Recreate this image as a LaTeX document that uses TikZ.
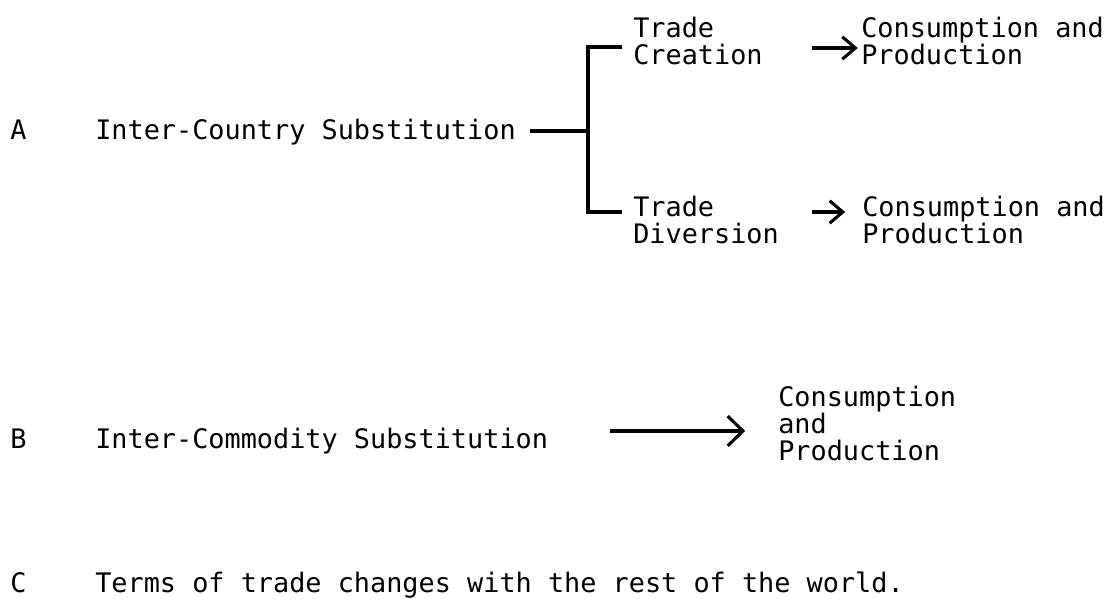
\documentclass[tikz,border=0pt]{standalone}
\usepackage{fontspec}
\setmainfont{DejaVu Sans Mono}
\usetikzlibrary{arrows.meta}

\begin{document}
\begin{tikzpicture}[x=0.025cm,y=-0.025cm,
    txt/.style={anchor=base west,inner sep=0pt,align=left,
                font=\fontsize{19.1}{19.2}\selectfont},
    ln/.style={line width=2.2pt},
    arr/.style={ln,-{Straight Barb[length=3.3mm,width=5.6mm]}},
    bigarr/.style={ln,-{Straight Barb[length=3.8mm,width=7.4mm]}}]

    \useasboundingbox (0,0) rectangle (1106,599);

    % case A (multi-line nodes sit on their last line)
    \node[txt] (la) at (10,139) {A};
    \node[txt] (ics) at (95,139) {Inter-Country Substitution};
    \node[txt] (tcr) at (633,64) {Trade\\Creation};
    \node[txt] (tdv) at (633,243) {Trade\\Diversion};
    \node[txt] (cp1) at (861,64) {Consumption and\\Production};
    \node[txt] (cp2) at (862,243) {Consumption and\\Production};

    \coordinate (stem) at (530,131);
    \coordinate (fork) at (588,131);
    \coordinate (up) at (622,47);
    \coordinate (dn) at (622,212);
    \draw[ln] (stem) -- (fork);
    \draw[ln] (up) -| (fork) |- (dn);

    \coordinate (a1) at (812,48);
    \coordinate (a2) at (812,212);
    \draw[arr,shorten >=0.08cm] (a1) -- (a1 -| cp1.west);
    \draw[arr,shorten >=0.42cm] (a2) -- (a2 -| cp2.west);

    % case B
    \node[txt] (lb) at (10,448) {B};
    \node[txt] (ims) at (95,448) {Inter-Commodity Substitution};
    \node[txt] (cp3) at (778,460) {Consumption\\and\\Production};
    \coordinate (a3) at (610,431);
    \draw[bigarr,shorten >=0.82cm] (a3) -- (a3 -| cp3.west);

    % case C
    \node[txt] (lc) at (10,592) {C};
    \node[txt] (tot) at (95,592) {Terms of trade changes with the rest of the world.};
\end{tikzpicture}
\end{document}
